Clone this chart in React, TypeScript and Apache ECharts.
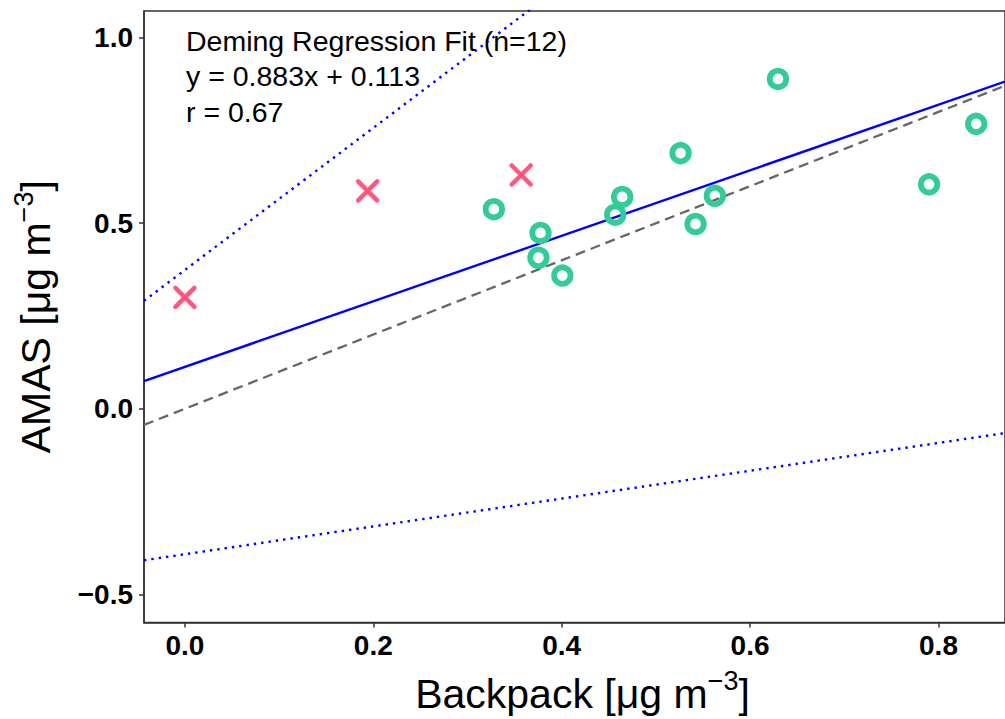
import React, { useEffect, useRef } from "react";
import * as echarts from "echarts";

// ---- data ----
const validX = [0.328, 0.3775, 0.3753, 0.4007, 0.4568, 0.4642, 0.5262, 0.5421, 0.5626, 0.6296, 0.79, 0.84];
const validY = [0.538, 0.474, 0.407, 0.359, 0.523, 0.571, 0.689, 0.498, 0.574, 0.889, 0.605, 0.768];
const excludedX = [0.0, 0.194, 0.357];
const excludedY = [0.3, 0.587, 0.63];

// fitted line parameters: [slope, intercept]
const fitLine = [0.883, 0.113];
const oneToOne = [1.0, 0.0];
const upperBound = [1.915, 0.374];
const lowerBound = [0.375, -0.392];

const xTicks = [0.0, 0.2, 0.4, 0.6, 0.8];
const yTicks = [-0.5, 0.0, 0.5, 1.0];
const xRange = [-0.0434, 0.8706];
const yRange = [-0.576, 1.072];

const annotation = ["Deming Regression Fit (n=12)", "y = 0.883x + 0.113", "r = 0.67"];

const FONT = "'Liberation Sans', Arial, Helvetica, sans-serif";

function lineData(p: number[]) {
  return xRange.map((x) => [x, p[0] * x + p[1]]);
}

function fmt(v: number) {
  const s = Math.abs(v).toFixed(1);
  return v < 0 ? "\u2212" + s : s;
}

export default function App() {
  const ref = useRef<HTMLDivElement>(null);
  useEffect(() => {
    const chart = echarts.init(ref.current!, null, { renderer: "svg" });
    const axisColor = "#333333";
    const richName = {
      m: { fontSize: 41, fontFamily: FONT, color: "#000", lineHeight: 52 },
      s: { fontSize: 27, fontFamily: FONT, color: "#000", lineHeight: 27, verticalAlign: "top" as const },
    };
    chart.setOption({
      animation: false,
      backgroundColor: "#ffffff",
      grid: {
        left: 144,
        top: 11,
        right: -3,
        bottom: 93,
        show: true,
        borderColor: axisColor,
        borderWidth: 1.5,
        containLabel: false,
      },
      xAxis: {
        type: "value",
        min: xRange[0],
        max: xRange[1],
        splitLine: { show: false },
        axisLine: { show: true, onZero: false, lineStyle: { color: axisColor, width: 1.5 } },
        axisTick: { show: true, length: 5, customValues: xTicks, lineStyle: { color: axisColor, width: 1.5 } },
        axisLabel: {
          customValues: xTicks,
          formatter: (v: number) => fmt(v),
          fontSize: 28,
          fontWeight: "bold",
          fontFamily: FONT,
          color: "#000",
          margin: 9,
        },
        name: "{m|Backpack [\u03bcg m}{s|\u22123}{m|]}",
        nameLocation: "middle",
        nameGap: 45,
        nameTextStyle: { rich: richName, padding: [0, 0, 0, 16] },
      },
      yAxis: {
        type: "value",
        min: yRange[0],
        max: yRange[1],
        splitLine: { show: false },
        axisLine: { show: true, onZero: false, lineStyle: { color: axisColor, width: 1.5 } },
        axisTick: { show: true, length: 5, customValues: yTicks, lineStyle: { color: axisColor, width: 1.5 } },
        axisLabel: {
          customValues: yTicks,
          formatter: (v: number) => fmt(v),
          fontSize: 28,
          fontWeight: "bold",
          fontFamily: FONT,
          color: "#000",
          margin: 11,
        },
        name: "{m|AMAS [\u03bcg m}{s|\u22123}{m|]}",
        nameLocation: "middle",
        nameGap: 82,
        nameTextStyle: { rich: richName },
      },
      graphic: annotation.map((t, i) => ({
        type: "text",
        left: 186,
        top: 26 + i * 35.5,
        z: 100,
        style: { text: t, fontSize: 28.5, fontFamily: FONT, fill: "#000" },
      })),
      series: [
        {
          type: "line",
          data: lineData(oneToOne),
          symbol: "none",
          lineStyle: { color: "#666666", width: 2.3, type: [10, 6] },
          z: 2,
        },
        {
          type: "line",
          data: lineData(upperBound),
          symbol: "none",
          lineStyle: { color: "#0000ff", width: 2.4, type: [2.4, 5] },
          z: 2,
        },
        {
          type: "line",
          data: lineData(lowerBound),
          symbol: "none",
          lineStyle: { color: "#0000ff", width: 2.4, type: [2.4, 5] },
          z: 2,
        },
        {
          type: "line",
          data: lineData(fitLine),
          symbol: "none",
          lineStyle: { color: "#0000ff", width: 2.4 },
          z: 3,
        },
        {
          type: "scatter",
          data: validX.map((x, i) => [x, validY[i]]),
          symbol: "circle",
          symbolSize: 16.5,
          itemStyle: { color: "rgba(0,0,0,0)", borderColor: "#33cc99", borderWidth: 5.8, opacity: 1 },
          z: 5,
        },
        {
          type: "scatter",
          data: excludedX.map((x, i) => [x, excludedY[i]]),
          symbol: "path://M0,0L10,10M10,0L0,10",
          symbolSize: 19,
          itemStyle: { color: "none", borderColor: "#ff2d5f", borderWidth: 4.5, borderCap: "round" },
          z: 5,
        },
      ],
    });
    return () => chart.dispose();
  }, []);
  return (
    <div
      ref={ref}
      style={{ position: "fixed", left: 0, top: 0, width: 1005, height: 719, background: "#fff" }}
    />
  );
}
